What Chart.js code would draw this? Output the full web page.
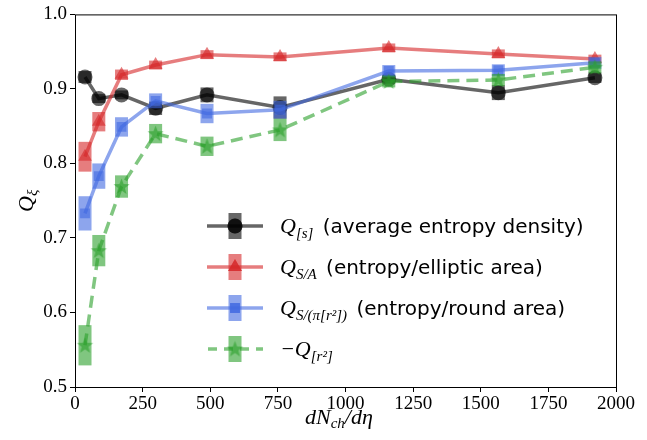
<!DOCTYPE html>
<html>
<head>
<meta charset="utf-8">
<script src="https://cdn.jsdelivr.net/npm/chart.js@4.4.1/dist/chart.umd.min.js"></script>
<style>
  html, body { margin: 0; padding: 0; background: #fff; }
  #wrap { width: 647px; height: 440px; position: relative; }
</style>
</head>
<body>
<div id="wrap"><canvas id="chart" width="647" height="440"></canvas></div>
<script>
// dN_ch/deta for each centrality class
const multiplicity = [37, 88, 172, 298, 488, 758, 1160, 1565, 1922];

// Q values and their uncertainties
const qEntropyDensity = [0.916, 0.887, 0.892, 0.874, 0.892, 0.875, 0.913, 0.895, 0.915];
const errEntropyDensity = [0.008, 0.006, 0.006, 0.009, 0.010, 0.015, 0.006, 0.010, 0.007];

const qEllipticArea = [0.809, 0.856, 0.919, 0.932, 0.946, 0.943, 0.955, 0.947, 0.940];
const errEllipticArea = [0.020, 0.013, 0.007, 0.006, 0.006, 0.006, 0.006, 0.006, 0.006];

const qRoundArea = [0.733, 0.783, 0.849, 0.884, 0.867, 0.872, 0.924, 0.925, 0.935];
const errRoundArea = [0.023, 0.017, 0.013, 0.010, 0.013, 0.012, 0.008, 0.008, 0.008];

const qMinusR2 = [0.556, 0.683, 0.769, 0.840, 0.823, 0.845, 0.910, 0.912, 0.929];
const errMinusR2 = [0.027, 0.021, 0.015, 0.013, 0.013, 0.015, 0.008, 0.008, 0.008];

const xTicks = [0, 250, 500, 750, 1000, 1250, 1500, 1750, 2000];
const yTicks = [0.5, 0.6, 0.7, 0.8, 0.9, 1.0];

const ALPHA = 0.6;
const serif = '"Liberation Serif", "DejaVu Serif", serif';
const sans = '"DejaVu Sans", "Noto Sans", sans-serif';

function rgba(rgb, a) {
  return 'rgba(' + rgb.join(',') + ',' + a + ')';
}

// filled five-point star like matplotlib's '*'
function makeStar(rgb, r) {
  const c = document.createElement('canvas');
  const s = Math.ceil(r * 2 + 2);
  c.width = s; c.height = s;
  const g = c.getContext('2d');
  g.beginPath();
  for (let i = 0; i < 10; i++) {
    const rad = i % 2 === 0 ? r : r * 0.42;
    const a = -Math.PI / 2 + i * Math.PI / 5;
    const px = s / 2 + rad * Math.cos(a);
    const py = s / 2 + rad * Math.sin(a) + 0.5;
    if (i === 0) g.moveTo(px, py); else g.lineTo(px, py);
  }
  g.closePath();
  g.fillStyle = rgba(rgb, ALPHA);
  g.fill();
  return c;
}

const BLACK = [0, 0, 0];
const RED = [214, 39, 40];
const BLUE = [65, 105, 225];
const GREEN = [44, 160, 44];

const series = [
  { name: 'entropyDensity', y: qEntropyDensity, err: errEntropyDensity, rgb: BLACK, style: 'circle', radius: 7.5, dash: [], order: 4 },
  { name: 'ellipticArea', y: qEllipticArea, err: errEllipticArea, rgb: RED, style: 'triangle', radius: 8, dash: [], order: 3 },
  { name: 'roundArea', y: qRoundArea, err: errRoundArea, rgb: BLUE, style: 'rect', radius: 7, dash: [], order: 2 },
  { name: 'minusR2', y: qMinusR2, err: errMinusR2, rgb: GREEN, style: makeStar(GREEN, 8.5), radius: 8, dash: [12, 7], order: 1 }
];

const datasets = series.map(function (s) {
  return {
    label: s.name,
    data: multiplicity.map(function (x, i) { return { x: x, y: s.y[i] }; }),
    errors: s.err,
    boxColor: rgba(s.rgb, ALPHA),
    borderColor: rgba(s.rgb, ALPHA),
    backgroundColor: rgba(s.rgb, ALPHA),
    borderWidth: 3.5,
    borderDash: s.dash,
    pointStyle: s.style,
    pointRadius: s.radius,
    pointBorderWidth: 0,
    pointBackgroundColor: rgba(s.rgb, ALPHA),
    pointBorderColor: 'rgba(0,0,0,0)',
    order: s.order,
    tension: 0
  };
});

// error bars drawn as wide translucent boxes, behind each dataset
const errorBoxes = {
  id: 'errorBoxes',
  beforeDatasetDraw: function (chart, args) {
    const ds = chart.data.datasets[args.index];
    const xs = chart.scales.x, ys = chart.scales.y;
    const ctx = chart.ctx;
    ctx.save();
    ctx.fillStyle = ds.boxColor;
    ds.data.forEach(function (p, i) {
      const e = ds.errors[i];
      const px = xs.getPixelForValue(p.x);
      const top = ys.getPixelForValue(p.y + e);
      const bot = ys.getPixelForValue(p.y - e);
      ctx.fillRect(px - 6.5, top, 13, bot - top);
    });
    ctx.restore();
  }
};

// frame, axis titles and legend
function drawMath(ctx, parts, x, y) {
  // parts: [text, font, dy, extra gap]
  parts.forEach(function (p) {
    ctx.font = p[1];
    ctx.fillText(p[0], x, y + (p[2] || 0));
    x += ctx.measureText(p[0]).width + (p[3] || 0);
  });
  return x;
}

const decorations = {
  id: 'decorations',
  afterDraw: function (chart) {
    const ctx = chart.ctx;
    const a = chart.chartArea;
    ctx.save();
    ctx.strokeStyle = '#000';
    ctx.lineWidth = 1;
    ctx.strokeRect(a.left + 0.5, a.top + 0.5, a.right - a.left, a.bottom - a.top);

    ctx.fillStyle = '#000';
    ctx.textBaseline = 'alphabetic';
    const it = 'italic 22px ' + serif;
    const sub = 'italic 15px ' + serif;
    // x title
    drawMath(ctx, [['dN', it], ['ch', sub, 4], ['/dη', it]], 305, 424);
    // y title
    ctx.save();
    ctx.translate(33, 212);
    ctx.rotate(-Math.PI / 2);
    drawMath(ctx, [['Q', it], ['ξ', sub, 4]], 0, 0);
    ctx.restore();

    // legend
    const txt = '20px ' + sans;
    const rows = [
      { y: 226, parts: [['Q', it], ['[s]', sub, 5, 3], [' (average entropy density)', txt]] },
      { y: 267, parts: [['Q', it], ['S/A', sub, 5, 3], [' (entropy/elliptic area)', txt]] },
      { y: 308, parts: [['Q', it], ['S/(π[r²])', sub, 5, 3], [' (entropy/round area)', txt]] },
      { y: 349, parts: [['−Q', it], ['[r²]', sub, 5]] }
    ];
    rows.forEach(function (r, i) {
      const ds = chart.data.datasets[i];
      const cx = 235;
      ctx.save();
      ctx.strokeStyle = ds.borderColor;
      ctx.lineWidth = 3.5;
      ctx.beginPath();
      if (ds.borderDash.length) {
        ctx.setLineDash([9, 7]);
        ctx.moveTo(208, r.y); ctx.lineTo(263, r.y);
      } else {
        ctx.moveTo(207, r.y); ctx.lineTo(263, r.y);
      }
      ctx.stroke();
      ctx.setLineDash([]);
      ctx.fillStyle = ds.boxColor;
      ctx.fillRect(cx - 6.5, r.y - 13, 13, 26);
      Chart.helpers.drawPoint(ctx, {
        pointStyle: ds.pointStyle, radius: ds.pointRadius, borderWidth: 0, rotation: 0
      }, cx, r.y);
      ctx.fillStyle = ds.pointBackgroundColor;
      ctx.fill();
      ctx.restore();
      ctx.fillStyle = '#000';
      drawMath(ctx, r.parts, 280, r.y + 7);
    });
    ctx.restore();
  }
};

new Chart(document.getElementById('chart'), {
  type: 'line',
  data: { datasets: datasets },
  plugins: [errorBoxes, decorations],
  options: {
    responsive: false,
    animation: false,
    layout: { padding: { top: 12, right: 31, left: 0, bottom: 0 } },
    plugins: { legend: { display: false }, tooltip: { enabled: false } },
    scales: {
      x: {
        type: 'linear',
        min: 0, max: 2000,
        afterBuildTicks: function (s) { s.ticks = xTicks.map(function (v) { return { value: v }; }); },
        afterFit: function (s) { s.height = 53; },
        grid: { drawOnChartArea: false, drawTicks: true, tickLength: 5, color: '#000' },
        border: { display: false },
        ticks: { color: '#000', font: { family: serif, size: 19 }, padding: 1, maxRotation: 0,
          callback: function (v) { return String(v); } }
      },
      y: {
        min: 0.5, max: 1.0,
        afterBuildTicks: function (s) { s.ticks = yTicks.map(function (v) { return { value: v }; }); },
        afterFit: function (s) { s.width = 75; },
        grid: { drawOnChartArea: false, drawTicks: true, tickLength: 5, color: '#000' },
        border: { display: false },
        ticks: { color: '#000', font: { family: serif, size: 19 }, padding: 3,
          callback: function (v) { return v.toFixed(1); } }
      }
    }
  }
});
</script>
</body>
</html>
